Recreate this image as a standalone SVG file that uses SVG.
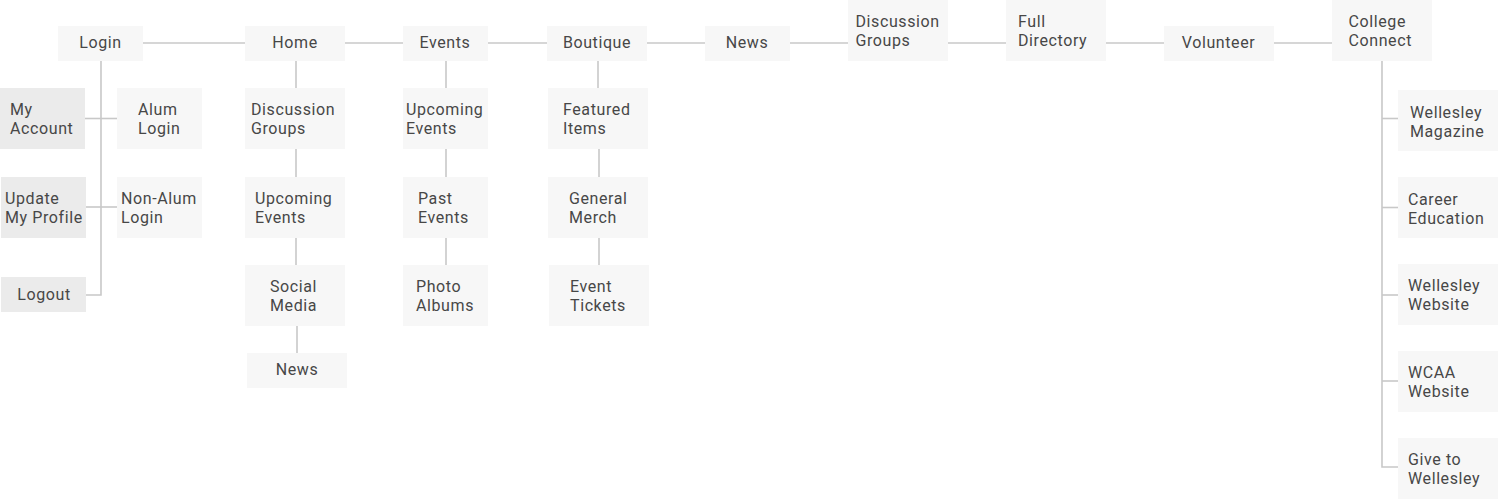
<svg xmlns="http://www.w3.org/2000/svg" width="1498" height="499" viewBox="0 0 1498 499">
<style>
.b{fill:#f7f7f7}
.d{fill:#ebebeb}
text{font-family:Roboto,"Liberation Sans",sans-serif;font-size:16px;fill:#474747;letter-spacing:0.6px}
.c{text-anchor:middle}
#connectors line,#connectors polyline{stroke:#c8c8c8;stroke-width:1.6;fill:none}
</style>
<rect width="1498" height="499" fill="#ffffff"/>
<g id="connectors">
<line x1="143" y1="43" x2="245" y2="43"/>
<line x1="345" y1="43" x2="403" y2="43"/>
<line x1="488" y1="43" x2="547" y2="43"/>
<line x1="647" y1="43" x2="705" y2="43"/>
<line x1="790" y1="43" x2="848" y2="43"/>
<line x1="948" y1="43" x2="1006" y2="43"/>
<line x1="1106" y1="43" x2="1164" y2="43"/>
<line x1="1274" y1="43" x2="1332" y2="43"/>
<polyline points="101,61 101,295 86,295"/>
<line x1="85" y1="118.5" x2="117" y2="118.5"/>
<line x1="86" y1="207" x2="117" y2="207"/>
<line x1="296" y1="61" x2="296" y2="88"/>
<line x1="296" y1="149" x2="296" y2="177"/>
<line x1="296" y1="238" x2="296" y2="265"/>
<line x1="297" y1="326" x2="297" y2="353"/>
<line x1="446" y1="61" x2="446" y2="88"/>
<line x1="446" y1="149" x2="446" y2="177"/>
<line x1="446" y1="238" x2="446" y2="265"/>
<line x1="598" y1="61" x2="598" y2="88"/>
<line x1="599" y1="149" x2="599" y2="177"/>
<line x1="599" y1="238" x2="599" y2="265"/>
<polyline points="1382,61 1382,467 1398,467"/>
<line x1="1382" y1="118.5" x2="1398" y2="118.5"/>
<line x1="1382" y1="207.5" x2="1398" y2="207.5"/>
<line x1="1382" y1="295" x2="1398" y2="295"/>
<line x1="1382" y1="381" x2="1398" y2="381"/>
</g>
<g id="login"><rect class="b" x="58" y="26" width="85" height="35"/><text class="c" x="100.5" y="48">Login</text></g>
<g id="home"><rect class="b" x="245" y="26" width="100" height="35"/><text class="c" x="295" y="48">Home</text></g>
<g id="events"><rect class="b" x="403" y="26" width="85" height="35"/><text class="c" x="445" y="48">Events</text></g>
<g id="boutique"><rect class="b" x="547" y="26" width="100" height="35"/><text class="c" x="597" y="48">Boutique</text></g>
<g id="news"><rect class="b" x="705" y="26" width="85" height="35"/><text class="c" x="747" y="48">News</text></g>
<g id="discussion-groups-top"><rect class="b" x="848" y="0" width="100" height="61"/><text x="855.5" y="27">Discussion</text><text x="855.5" y="46">Groups</text></g>
<g id="full-directory"><rect class="b" x="1006" y="0" width="100" height="61"/><text x="1018" y="27">Full</text><text x="1018" y="46">Directory</text></g>
<g id="volunteer"><rect class="b" x="1164" y="26" width="110" height="35"/><text class="c" x="1218.5" y="48">Volunteer</text></g>
<g id="college-connect"><rect class="b" x="1332" y="0" width="100" height="61"/><text x="1348.5" y="27">College</text><text x="1348.5" y="46">Connect</text></g>

<g id="my-account"><rect class="d" x="0" y="88" width="85" height="61"/><text x="10" y="115">My</text><text x="10" y="134">Account</text></g>
<g id="alum-login"><rect class="b" x="117" y="88" width="85" height="61"/><text x="138" y="115">Alum</text><text x="138" y="134">Login</text></g>
<g id="update-profile"><rect class="d" x="1" y="177" width="85" height="61"/><text x="5" y="204">Update</text><text x="5" y="223">My Profile</text></g>
<g id="non-alum-login"><rect class="b" x="117" y="177" width="85" height="61"/><text x="121" y="204">Non-Alum</text><text x="121" y="223">Login</text></g>
<g id="logout"><rect class="d" x="1" y="277" width="85" height="35"/><text class="c" x="44" y="300">Logout</text></g>

<g id="home-discussion"><rect class="b" x="245" y="88" width="100" height="61"/><text x="251" y="115">Discussion</text><text x="251" y="134">Groups</text></g>
<g id="home-upcoming"><rect class="b" x="245" y="177" width="100" height="61"/><text x="255" y="204">Upcoming</text><text x="255" y="223">Events</text></g>
<g id="home-social"><rect class="b" x="245" y="265" width="100" height="61"/><text x="270" y="292">Social</text><text x="270" y="311">Media</text></g>
<g id="home-news"><rect class="b" x="247" y="353" width="100" height="35"/><text class="c" x="297" y="375">News</text></g>

<g id="events-upcoming"><rect class="b" x="403" y="88" width="85" height="61"/><text x="406" y="115">Upcoming</text><text x="406" y="134">Events</text></g>
<g id="events-past"><rect class="b" x="403" y="177" width="85" height="61"/><text x="418" y="204">Past</text><text x="418" y="223">Events</text></g>
<g id="events-photo"><rect class="b" x="403" y="265" width="85" height="61"/><text x="416" y="292">Photo</text><text x="416" y="311">Albums</text></g>

<g id="boutique-featured"><rect class="b" x="548" y="88" width="100" height="61"/><text x="563" y="115">Featured</text><text x="563" y="134">Items</text></g>
<g id="boutique-general"><rect class="b" x="548" y="177" width="100" height="61"/><text x="569" y="204">General</text><text x="569" y="223">Merch</text></g>
<g id="boutique-tickets"><rect class="b" x="549" y="265" width="100" height="61"/><text x="570" y="292">Event</text><text x="570" y="311">Tickets</text></g>

<g id="cc-magazine"><rect class="b" x="1398" y="90" width="100" height="61"/><text x="1410" y="117.5">Wellesley</text><text x="1410" y="136.5">Magazine</text></g>
<g id="cc-career"><rect class="b" x="1398" y="177" width="100" height="61"/><text x="1408" y="204.5">Career</text><text x="1408" y="223.5">Education</text></g>
<g id="cc-website"><rect class="b" x="1398" y="264" width="100" height="61"/><text x="1408" y="291">Wellesley</text><text x="1408" y="310">Website</text></g>
<g id="cc-wcaa"><rect class="b" x="1398" y="351" width="100" height="61"/><text x="1408" y="378">WCAA</text><text x="1408" y="397">Website</text></g>
<g id="cc-give"><rect class="b" x="1398" y="438" width="100" height="61"/><text x="1408" y="465">Give to</text><text x="1408" y="484">Wellesley</text></g>
</svg>
